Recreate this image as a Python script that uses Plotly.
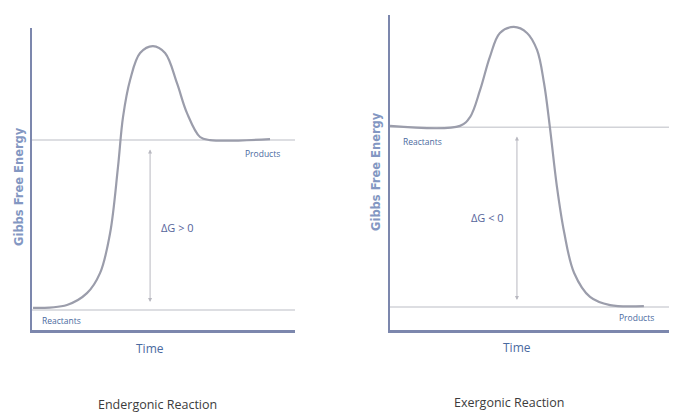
import plotly.graph_objects as go

W, H = 674, 413

# ---- data (arbitrary units: time 0..10, energy 0..10) ----
endo_time = [0.04, 1.33, 2.09, 2.59, 2.97, 3.27, 3.46, 3.73, 4.11, 4.60, 5.06, 5.51, 5.89, 6.39, 6.77, 9.05]
endo_energy = [0.73, 0.83, 1.22, 1.89, 3.21, 5.40, 7.05, 8.28, 9.17, 9.40, 9.17, 8.18, 7.19, 6.39, 6.29, 6.32]
endo_reactants = 0.66
endo_products = 6.29

exo_time = [0.0, 2.51, 2.87, 3.23, 3.58, 3.94, 4.44, 4.91, 5.27, 5.52, 5.73, 5.98, 6.24, 6.60, 7.17, 7.89, 9.10]
exo_energy = [6.48, 6.48, 6.76, 7.62, 8.67, 9.43, 9.62, 9.43, 8.89, 7.84, 6.44, 4.57, 3.11, 1.81, 1.05, 0.79, 0.76]
exo_reactants = 6.44
exo_products = 0.73

panel_titles = ["Endergonic Reaction", "Exergonic Reaction"]
dg_labels = ["ΔG > 0", "ΔG < 0"]

# ---- styling ----
curve_col = "#9b9dab"
level_col = "#d2d3d8"
axis_col = "#7c87ad"
label_col = "#4a6aa0"
title_col = "#3c3c3c"
FONT = "Open Sans"

fig = go.Figure()

def px_x(p):
    return p / W

def px_y(p):
    return 1 - p / H

dom = {
    "1": dict(x=[px_x(32), px_x(295)], y=[px_y(330), px_y(28)]),
    "2": dict(x=[px_x(390), px_x(669)], y=[px_y(330), px_y(15)]),
}

panels = [
    ("1", endo_time, endo_energy, endo_reactants, endo_products),
    ("2", exo_time, exo_energy, exo_reactants, exo_products),
]

for key, t, e, r, p in panels:
    xa = "x" if key == "1" else "x2"
    ya = "y" if key == "1" else "y2"
    for lvl in (r, p):
        fig.add_trace(go.Scatter(x=[0, 10], y=[lvl, lvl], mode="lines",
                                 line=dict(color=level_col, width=1.5),
                                 xaxis=xa, yaxis=ya, showlegend=False, hoverinfo="skip"))
    fig.add_trace(go.Scatter(x=t, y=e, mode="lines", line_shape="spline",
                             line=dict(color=curve_col, width=2.2),
                             xaxis=xa, yaxis=ya, showlegend=False, hoverinfo="skip"))

axis_common = dict(range=[0, 10], showgrid=False, zeroline=False, showticklabels=False,
                   ticks="", showline=True, linecolor=axis_col, linewidth=2.5, fixedrange=True)

fig.update_layout(
    width=W, height=H,
    margin=dict(l=0, r=0, t=0, b=0),
    paper_bgcolor="white", plot_bgcolor="white",
    xaxis=dict(domain=dom["1"]["x"], anchor="y", **axis_common),
    yaxis=dict(domain=dom["1"]["y"], anchor="x", **axis_common),
    xaxis2=dict(domain=dom["2"]["x"], anchor="y2", **axis_common),
    yaxis2=dict(domain=dom["2"]["y"], anchor="x2", **axis_common),
    font=dict(family=FONT),
)

C = dict(xanchor="center", yanchor="middle", showarrow=False)
ann = []
arrows = [("x", "y", 4.49, endo_products - 0.26, endo_reactants + 0.27),
          ("x2", "y2", 4.55, exo_reactants - 0.25, exo_products + 0.22)]
for xr, yr, ax_x, y_top, y_bot in arrows:
    ann.append(dict(x=ax_x, y=y_bot, ax=ax_x, ay=y_top, xref=xr, yref=yr, axref=xr, ayref=yr,
                    text="", showarrow=True, arrowhead=2, arrowside="end+start",
                    arrowsize=0.8, arrowwidth=1, arrowcolor="#b8b8c0"))

dg_font = dict(size=11, color="#55639a")
ann.append(dict(x=5.55, y=3.41, xref="x", yref="y", text=dg_labels[0], font=dg_font, **C))
ann.append(dict(x=3.48, y=3.56, xref="x2", yref="y2", text=dg_labels[1], font=dg_font, **C))

small = dict(size=8.5, color=label_col)
ann += [
    dict(x=8.78, y=5.83, xref="x", yref="y", text="Products", font=small, **C),
    dict(x=1.14, y=0.33, xref="x", yref="y", text="Reactants", font=small, **C),
    dict(x=1.15, y=6.0, xref="x2", yref="y2", text="Reactants", font=small, **C),
    dict(x=8.85, y=0.41, xref="x2", yref="y2", text="Products", font=small, **C),
]

ytitle_font = dict(size=11.5, color="#8397c2", family="DejaVu Sans")
ann += [
    dict(x=px_x(19), y=px_y(187), xref="paper", yref="paper", text="<b>Gibbs Free Energy</b>",
         textangle=-90, font=ytitle_font, **C),
    dict(x=px_x(376), y=px_y(172), xref="paper", yref="paper", text="<b>Gibbs Free Energy</b>",
         textangle=-90, font=ytitle_font, **C),
    dict(x=px_x(150), y=px_y(348), xref="paper", yref="paper", text="Time",
         font=dict(size=12, color=label_col), **C),
    dict(x=px_x(517), y=px_y(347), xref="paper", yref="paper", text="Time",
         font=dict(size=12, color=label_col), **C),
    dict(x=px_x(157), y=px_y(404), xref="paper", yref="paper", text=panel_titles[0],
         font=dict(size=12.5, color=title_col), **C),
    dict(x=px_x(509), y=px_y(402), xref="paper", yref="paper", text=panel_titles[1],
         font=dict(size=12.5, color=title_col), **C),
]

fig.update_layout(annotations=ann)
fig.write_html("out.html", config=dict(displayModeBar=False, staticPlot=True),
               post_script="document.body.style.margin='0';document.body.style.overflow='hidden';")
